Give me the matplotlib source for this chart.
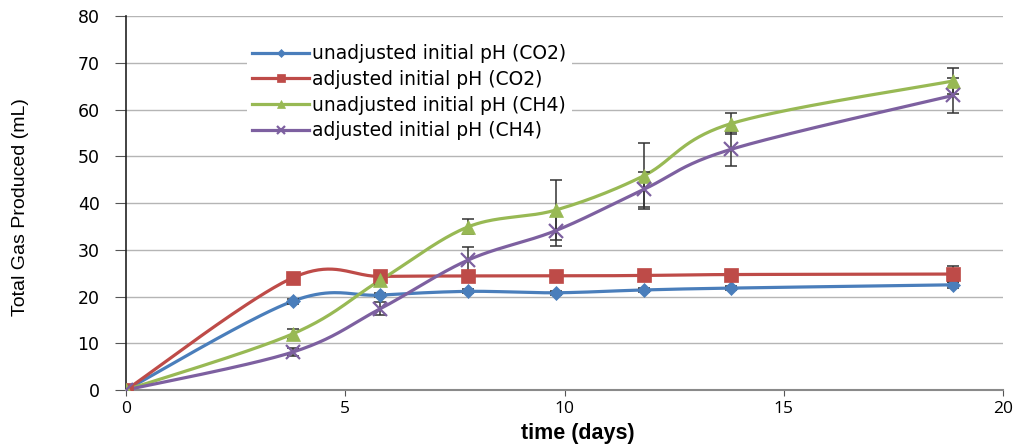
import numpy as np
import matplotlib
matplotlib.use("Agg")
import matplotlib.pyplot as plt
from matplotlib.lines import Line2D

# Sampling days
days = [0, 3.8, 5.8, 7.8, 9.8, 11.8, 13.8, 18.85]

# Cumulative gas volumes (mL)
unadj_co2 = [0, 19.0, 20.3, 21.1, 20.8, 21.4, 21.8, 22.5]
adj_co2 = [0, 24.0, 24.3, 24.4, 24.4, 24.5, 24.7, 24.8]
unadj_ch4 = [0, 12.0, 23.5, 34.9, 38.5, 45.8, 57.0, 66.1]
adj_ch4 = [0, 8.1, 17.4, 27.8, 34.1, 42.9, 51.5, 63.0]

# Standard deviations
unadj_co2_err = [0, 0.5, 0.5, 0.4, 0.4, 0.4, 0.5, 0.6]
adj_co2_err = [0, 0.9, 0.6, 0.4, 0.4, 0.4, 0.5, 1.8]
unadj_ch4_err = [0, 1.0, 1.0, 1.6, 6.4, 7.0, 2.2, 2.8]
adj_ch4_err = [0, 0.8, 1.4, 2.7, 3.2, 3.7, 3.6, 3.8]

labels = ["unadjusted initial pH (CO2)", "adjusted initial pH (CO2)",
          "unadjusted initial pH (CH4)", "adjusted initial pH (CH4)"]


def smooth(x, y, n=40):
    """Cardinal-spline smoothing through every point (spreadsheet style)."""
    x = np.asarray(x, float)
    y = np.asarray(y, float)
    pts = np.column_stack([x, y])
    out = [pts[0]]
    t = np.linspace(0, 1, n)[1:]
    for i in range(len(pts) - 1):
        p0 = pts[i - 1] if i > 0 else pts[i]
        p1 = pts[i]
        p2 = pts[i + 1]
        p3 = pts[i + 2] if i + 2 < len(pts) else pts[i + 1]
        c1 = p1 + (p2 - p0) / 6.0
        c2 = p2 - (p3 - p1) / 6.0
        for tt in t:
            b = ((1 - tt) ** 3) * p1 + 3 * ((1 - tt) ** 2) * tt * c1 \
                + 3 * (1 - tt) * tt ** 2 * c2 + tt ** 3 * p2
            out.append(b)
    out = np.array(out)
    return out[:, 0], out[:, 1]


fig = plt.figure(figsize=(10.26, 4.45), dpi=100)
ax = fig.add_axes([0.1228, 0.1236, 0.855, 0.8404])

series = [
    (unadj_co2, unadj_co2_err, "#4a7ebb", "D", 7),
    (adj_co2, adj_co2_err, "#be4b48", "s", 9.5),
    (unadj_ch4, unadj_ch4_err, "#98b954", "^", 10),
    (adj_ch4, adj_ch4_err, "#7d60a0", "x", 10),
]

handles = []
for (vals, errs, col, mk, ms), lab in zip(series, labels):
    sx, sy = smooth(days, vals)
    ax.plot(sx, sy, color=col, lw=2.3, zorder=3)
    ax.errorbar(days, vals, yerr=errs, fmt="none", ecolor="#333333",
                elinewidth=1.1, capsize=4, capthick=1.1, zorder=4)
    mew = 1.6 if mk == "x" else 0.5
    ax.plot(days, vals, linestyle="none", marker=mk, ms=ms, color=col,
            mec=col, mew=mew, zorder=5)
    handles.append(Line2D([0], [0], color=col, lw=2.3, marker=mk,
                          ms=ms * 0.6, mec=col, mew=mew))

ax.set_xlim(0, 20)
ax.set_ylim(0, 80)
ax.set_xticks([0, 5, 10, 15, 20])
ax.set_yticks(range(0, 81, 10))
ax.yaxis.grid(True, color="#b5b5b5", lw=1.0)
ax.set_axisbelow(True)

for s in ["top", "right"]:
    ax.spines[s].set_visible(False)
ax.spines["left"].set_color("#222222")
ax.spines["left"].set_linewidth(1.2)
ax.spines["bottom"].set_color("#8a8a8a")
ax.spines["bottom"].set_linewidth(1.5)
ax.tick_params(axis="y", direction="out", length=8, color="#555555",
               labelsize=12.5, pad=11)
ax.tick_params(axis="x", direction="out", length=4, color="#555555",
               labelsize=12.5, pad=4)
for lbl in ax.get_yticklabels():
    lbl.set_fontfamily("DejaVu Sans")
for lbl in ax.get_xticklabels():
    lbl.set_fontfamily("Open Sans")

ax.set_xlabel("time (days)", fontsize=15.5, fontweight="bold",
              fontfamily=["Liberation Sans", "DejaVu Sans"])
ax.xaxis.set_label_coords(0.515, -0.088)
ax.set_ylabel("Total Gas Produced (mL)", fontsize=14,
              fontfamily=["Liberation Sans Narrow", "Liberation Sans", "DejaVu Sans"])
ax.yaxis.set_label_coords(-0.111, 0.49)

leg = ax.legend(handles, labels, loc="upper left",
                bbox_to_anchor=(0.127, 0.965), frameon=True, facecolor="white",
                edgecolor="none", framealpha=1, handlelength=3.0,
                handletextpad=0.2, labelspacing=0.36, borderpad=0.3,
                prop={"family": "DejaVu Sans", "size": 13.5})

fig.savefig("out.png", dpi=100)
